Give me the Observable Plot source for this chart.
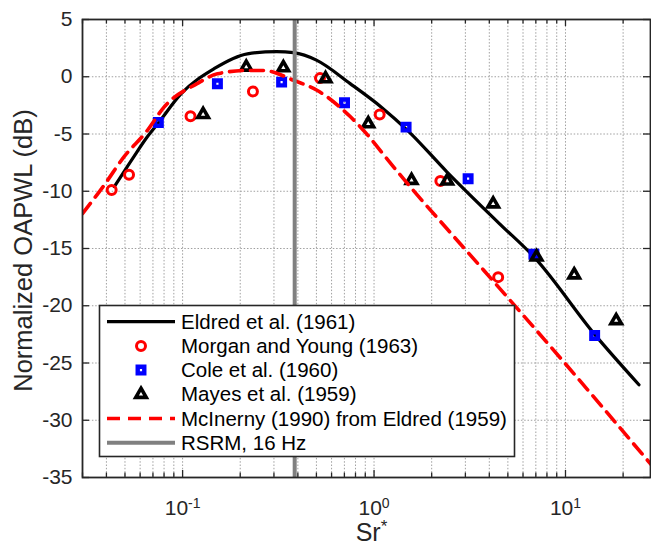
<!DOCTYPE html>
<html><head><meta charset="utf-8">
<script src="https://cdn.jsdelivr.net/npm/d3@7"></script>
<script src="https://cdn.jsdelivr.net/npm/@observablehq/plot@0.6"></script>
<style>body{margin:0;background:#fff;}</style>
</head><body><div id="chart"></div>
<script>
// ---- data ----
const eldredX = [0.044,0.055,0.065,0.075,0.098,0.146,0.218,0.31,0.38,0.5,0.75,1.1,1.5,2.4,4.5,6.9,14.2,24.2];
const eldredY = [-9.6,-7.1,-5.3,-4.0,-1.5,0.7,2.0,2.2,2.1,1.45,-0.6,-2.7,-4.7,-8.3,-12.8,-15.8,-22.5,-26.9];
const morganX = [0.0426,0.0525,0.110,0.233,0.522,1.07,2.22,4.45];
const morganY = [-9.9,-8.55,-3.46,-1.28,-0.12,-3.29,-9.1,-17.5];
const coleX = [0.0747,0.152,0.329,0.701,1.47,3.10,6.84,14.2];
const coleY = [-4.0,-0.61,-0.47,-2.27,-4.4,-8.9,-15.5,-22.6];
const mayesX = [0.128,0.215,0.336,0.558,0.933,1.57,2.41,4.19,7.06,11.1,18.4];
const mayesY = [-3.3,0.84,0.79,-0.17,-4.1,-9.05,-9.1,-11.1,-15.74,-17.3,-21.3];
const mcinX = [0.03,0.0388,0.0494,0.0654,0.080,0.119,0.152,0.218,0.266,0.381,0.506,0.753,0.922,1.12,1.58,2.41,3.74,8.69,28.1];
const mcinY = [-11.95,-9.5,-7.0,-4.7,-2.65,-0.6,0.26,0.55,0.55,-0.32,-1.2,-3.5,-5.05,-6.8,-9.8,-13.3,-16.9,-23.9,-33.9];
const rsrmX = [0.385];
const xMajor = [0.1, 1, 10];
const xMajorLabels = ["10^-1", "10^0", "10^1"];
const xMinor = [0.03,0.04,0.05,0.06,0.07,0.08,0.09,0.2,0.3,0.4,0.5,0.6,0.7,0.8,0.9,2,3,4,5,6,7,8,9,20];
const yTicks = [5,0,-5,-10,-15,-20,-25,-30,-35];
const legendLabels = ["Eldred et al. (1961)","Morgan and Young (1963)","Cole et al. (1960)","Mayes et al. (1959)","McInerny (1990) from Eldred (1959)","RSRM, 16 Hz"];

const zip = (xs, ys) => xs.map((x, i) => ({x, y: ys[i]}));
const eldred = zip(eldredX, eldredY), morgan = zip(morganX, morganY), cole = zip(coleX, coleY), mayes = zip(mayesX, mayesY), mcin = zip(mcinX, mcinY);

const W = 651, H = 548, mL = 82, mR = 1, mT = 19, mB = 71;
const fw = W - mL - mR, fh = H - mT - mB;
const FONT = "Liberation Sans, Arial, Helvetica, sans-serif";
const INK = "#262626";
const gridStyle = {stroke: "#a0a0a0", strokeDasharray: "1.5,1.8", strokeWidth: 1};
const circ = {r: 4.5, stroke: "#ff0000", strokeWidth: 3};
const sq = {r: 3.7, stroke: "#0000ff", strokeWidth: 4.4};
const tri = {r: 3.9, stroke: "black", strokeWidth: 3.6};

const chart = Plot.plot({
  width: W, height: H, marginLeft: mL, marginRight: mR, marginTop: mT, marginBottom: mB,
  style: {fontFamily: FONT, fontSize: "20px", background: "white", color: INK},
  x: {type: "log", domain: [0.03, 27.8], axis: null},
  y: {domain: [-35, 5], axis: null},
  marks: [
    Plot.ruleX(xMajor.concat(xMinor), {x: d => d, ...gridStyle}),
    Plot.ruleY(yTicks, {y: d => d, ...gridStyle}),
    Plot.line(eldred, {x: "x", y: "y", stroke: "black", strokeWidth: 3.2, curve: "monotone-x"}),
    Plot.dot(morgan, {x: "x", y: "y", ...circ, fill: "none"}),
    Plot.dot(cole, {x: "x", y: "y", symbol: "square", ...sq, fill: "none"}),
    Plot.dot(mayes, {x: "x", y: "y", symbol: "triangle", ...tri, fill: "none", strokeLinejoin: "miter"}),
    Plot.line(mcin, {x: "x", y: "y", stroke: "#ff0000", strokeWidth: 3.6, strokeDasharray: "13,8", curve: "monotone-x", clip: true}),
    Plot.ruleX(rsrmX, {x: d => d, stroke: "#808080", strokeWidth: 4}),
    // inward ticks
    Plot.ruleX(xMajor, {x: d => d, stroke: INK, strokeWidth: 1.3, insetTop: fh - 7}),
    Plot.ruleX(xMinor, {x: d => d, stroke: INK, strokeWidth: 1.3, insetTop: fh - 4.5}),
    Plot.ruleX(xMajor, {x: d => d, stroke: INK, strokeWidth: 1.3, insetBottom: fh - 7}),
    Plot.ruleX(xMinor, {x: d => d, stroke: INK, strokeWidth: 1.3, insetBottom: fh - 4.5}),
    Plot.ruleY(yTicks, {y: d => d, stroke: INK, strokeWidth: 1.3, insetRight: fw - 7}),
    Plot.ruleY(yTicks, {y: d => d, stroke: INK, strokeWidth: 1.3, insetLeft: fw - 7}),
    Plot.frame({stroke: INK, strokeWidth: 1.8}),
    // tick labels
    Plot.text(yTicks, {y: d => d, frameAnchor: "left", text: d => String(d), textAnchor: "end", dx: -10, fill: INK, fontSize: 21}),
    Plot.text(xMajor, {x: d => d, frameAnchor: "bottom", text: (d, i) => xMajorLabels[i], textAnchor: "middle", lineAnchor: "middle", dy: 31, fill: INK, fontSize: 21}),
    Plot.text(["Sr^*"], {frameAnchor: "bottom", text: d => d, textAnchor: "middle", dx: 5, dy: 55, lineAnchor: "middle", fill: INK, fontSize: 25}),
    Plot.text(["Normalized OAPWL (dB)"], {frameAnchor: "left", text: d => d, textAnchor: "middle", dx: -59, dy: 2, rotate: -90, lineAnchor: "middle", fill: INK, fontSize: 25.5})
  ]
});
document.getElementById("chart").appendChild(chart);

const svg = d3.select(chart);
// superscripts
svg.selectAll("text").each(function() {
  const t = this.textContent;
  const m = t.match(/^([^\^]*)\^(.*)$/);
  if (m) {
    const s = d3.select(this);
    const big = m[1] === "Sr";
    s.text(m[1]);
    s.append("tspan").attr("dy", "-0.5em").attr("font-size", big ? "17px" : "14px").text(m[2]);
  }
});

// legend
const lg = svg.append("g").attr("font-family", FONT).attr("font-size", 20.5).attr("text-anchor", "start");
lg.append("rect").attr("x", 99.5).attr("y", 305.5).attr("width", 415).attr("height", 151)
  .attr("fill", "white").attr("stroke", INK).attr("stroke-width", 1.6);
const rowY = i => 321.7 + i * 24.2;
const sx1 = 107, sx2 = 175, mx = 141;
lg.append("line").attr("x1", sx1).attr("x2", sx2).attr("y1", rowY(0)).attr("y2", rowY(0)).attr("stroke", "black").attr("stroke-width", 3.2);
lg.append("circle").attr("cx", mx).attr("cy", rowY(1)).attr("r", circ.r).attr("fill", "none").attr("stroke", circ.stroke).attr("stroke-width", circ.strokeWidth);
lg.append("path").attr("transform", `translate(${mx},${rowY(2)})`).attr("d", d3.symbol(d3.symbolSquare, Math.PI * sq.r * sq.r)()).attr("fill", "none").attr("stroke", sq.stroke).attr("stroke-width", sq.strokeWidth);
lg.append("path").attr("transform", `translate(${mx},${rowY(3)})`).attr("d", d3.symbol(d3.symbolTriangle, Math.PI * tri.r * tri.r)()).attr("fill", "none").attr("stroke", tri.stroke).attr("stroke-width", tri.strokeWidth).attr("stroke-linejoin", "miter");
lg.append("line").attr("x1", sx1).attr("x2", sx2).attr("y1", rowY(4)).attr("y2", rowY(4)).attr("stroke", "#ff0000").attr("stroke-width", 3.6).attr("stroke-dasharray", "13,8");
lg.append("line").attr("x1", sx1).attr("x2", sx2).attr("y1", rowY(5)).attr("y2", rowY(5)).attr("stroke", "#808080").attr("stroke-width", 4);
legendLabels.forEach((t, i) => {
  lg.append("text").attr("x", 181).attr("y", rowY(i)).attr("dy", "0.35em").attr("fill", "black").attr("text-anchor", "start").text(t);
});
</script>
</body></html>
